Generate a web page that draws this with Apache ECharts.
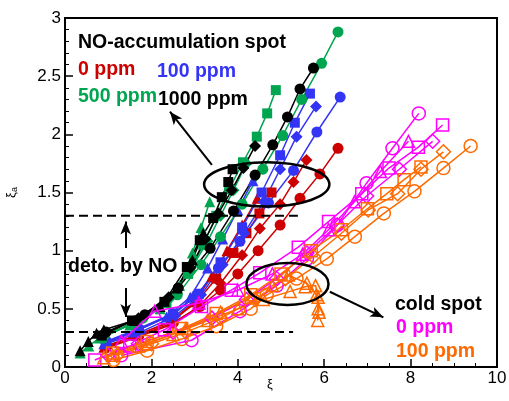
<!DOCTYPE html>
<html><head><meta charset="utf-8">
<script src="https://cdn.jsdelivr.net/npm/echarts@6/dist/echarts.min.js"></script>
<style>html,body{margin:0;padding:0;background:#fff}#c{width:509px;height:401px}</style>
</head><body><div id="c"></div>
<script>
// ---- data (x = ξ, y = ξa) ----
// NO-accumulation spot, filled markers
const black_circle  = [[0.95,0.30],[1.85,0.45],[2.62,0.68],[3.36,1.02],[3.90,1.34],[4.40,1.65],[4.81,1.91],[5.15,2.15],[5.44,2.39],[5.75,2.57]];
const black_square  = [[0.85,0.27],[1.55,0.40],[2.30,0.56],[2.82,0.86],[3.12,1.09],[3.43,1.28],[3.63,1.46],[3.78,1.59],[3.88,1.70]];
const black_diamond = [[0.90,0.28],[1.70,0.42],[2.40,0.60],[2.90,0.85],[3.25,1.10],[3.55,1.32],[3.86,1.52],[4.13,1.71],[4.40,1.90]];
const black_triangle= [[0.35,0.14],[0.54,0.22],[0.73,0.29],[0.90,0.32],[1.60,0.40],[2.20,0.52],[2.60,0.68],[2.95,0.92],[3.20,1.15]];
const green_circle  = [[0.90,0.27],[1.80,0.42],[2.60,0.62],[3.15,0.88],[3.60,1.12],[4.10,1.40],[4.58,1.70],[5.04,1.99],[5.48,2.30],[5.94,2.61],[6.32,2.88]];
const green_square  = [[0.85,0.25],[1.60,0.38],[2.35,0.55],[2.85,0.80],[3.20,1.05],[3.50,1.30],[3.80,1.53],[4.12,1.76],[4.44,1.98],[4.68,2.18],[4.88,2.38]];
const green_diamond = [[0.90,0.26],[1.70,0.40],[2.40,0.58],[2.90,0.83],[3.30,1.08],[3.60,1.30],[3.90,1.52],[4.20,1.75]];
const green_triangle= [[0.35,0.12],[0.55,0.18],[0.80,0.25],[1.50,0.36],[2.20,0.50],[2.65,0.70],[2.95,0.98],[3.15,1.20],[3.35,1.42]];
const blue_circle   = [[0.95,0.22],[1.70,0.33],[2.50,0.46],[3.05,0.62],[3.55,0.85],[4.05,1.08],[4.71,1.41],[5.29,1.69],[5.83,2.02],[6.37,2.32]];
const blue_square   = [[0.95,0.21],[1.70,0.32],[2.50,0.45],[3.10,0.63],[3.60,0.90],[4.10,1.20],[4.55,1.50],[4.98,1.82],[5.32,2.10],[5.67,2.35]];
const blue_diamond  = [[0.95,0.20],[1.75,0.30],[2.55,0.44],[3.15,0.62],[3.65,0.88],[4.15,1.15],[4.60,1.42],[4.98,1.70],[5.36,1.98],[5.81,2.24]];
const blue_triangle = [[0.90,0.20],[1.60,0.30],[2.35,0.43],[2.90,0.60],[3.30,0.85],[3.65,1.10],[4.00,1.35],[4.35,1.60]];
const red_circle    = [[0.95,0.17],[1.70,0.27],[2.50,0.38],[3.12,0.52],[3.60,0.66],[4.00,0.80],[4.47,1.00],[4.98,1.22],[5.44,1.45],[5.90,1.66],[6.32,1.88]];
const red_diamond   = [[0.95,0.16],[1.70,0.26],[2.50,0.37],[3.10,0.52],[3.60,0.72],[4.10,0.96],[4.51,1.19],[4.98,1.40],[5.29,1.59],[5.59,1.78]];
const red_square    = [[0.95,0.18],[1.70,0.28],[2.50,0.40],[3.05,0.56],[3.50,0.76],[3.90,0.98],[4.20,1.15],[4.50,1.32],[4.78,1.50]];
const red_triangle  = [[0.90,0.17],[1.65,0.27],[2.45,0.39],[3.00,0.56],[3.40,0.78],[3.75,1.00],[4.10,1.22],[4.45,1.45]];
// cold spot, hollow markers
const magenta_circle  = [[1.30,0.10],[2.93,0.23],[4.05,0.48],[4.90,0.70],[5.60,0.93],[6.30,1.22],[6.98,1.58],[7.58,1.88],[8.19,2.18]];
const magenta_square  = [[0.69,0.06],[1.50,0.18],[2.30,0.32],[3.16,0.52],[3.85,0.66],[4.51,0.81],[5.40,1.03],[6.10,1.25],[6.87,1.49],[7.50,1.71],[8.18,1.89],[8.74,2.08]];
const magenta_diamond = [[1.00,0.10],[1.70,0.20],[2.50,0.30],[3.40,0.42],[4.20,0.58],[4.90,0.76],[5.60,0.98],[6.30,1.22],[6.98,1.47],[7.74,1.70],[8.51,1.94]];
const magenta_triangle= [[1.30,0.22],[2.08,0.48],[3.10,0.55],[4.00,0.66],[4.80,0.80],[5.50,0.97],[6.10,1.18],[6.70,1.42],[7.30,1.68],[7.95,1.94]];
const orange_circle   = [[1.12,0.06],[1.90,0.14],[2.70,0.24],[3.50,0.35],[4.30,0.50],[4.67,0.62],[5.36,0.76],[6.06,0.93],[6.71,1.12],[7.38,1.32],[8.09,1.51],[8.76,1.71],[9.39,1.90]];
const orange_diamond  = [[1.20,0.10],[2.00,0.20],[2.80,0.30],[3.60,0.42],[4.40,0.58],[5.10,0.76],[5.75,0.95],[6.40,1.15],[7.02,1.35],[7.70,1.49],[8.24,1.70],[8.76,1.85]];
const orange_square   = [[1.10,0.12],[1.90,0.22],[2.70,0.33],[3.50,0.46],[4.30,0.62],[5.00,0.80],[5.70,1.00],[6.40,1.18],[7.00,1.36],[7.45,1.49],[7.85,1.61],[8.24,1.72]];
const orange_triangle1= [[0.90,0.08],[1.70,0.18],[2.50,0.28],[3.30,0.40],[4.00,0.50],[4.59,0.58],[5.21,0.65],[5.56,0.69],[5.80,0.70],[5.86,0.60],[5.86,0.50],[5.85,0.40]];
const orange_triangle2= [[1.10,0.10],[1.90,0.20],[2.80,0.33],[3.60,0.47],[4.30,0.60],[4.80,0.70],[5.17,0.79],[5.60,0.72],[5.82,0.62],[5.88,0.47]];
// annotations (data coordinates)
const dashHigh = [[0,1.3],[5.39,1.3]];
const dashLow  = [[0,0.3],[5.28,0.3]];
const arrows = [ [[3.40,1.737],[2.43,2.195]], [[6.13,0.647],[7.37,0.427]], [[1.405,1.023],[1.405,1.25]], [[1.405,0.679],[1.405,0.43]] ];
const ellipses = [ {c:[4.67,1.57], rx:1.45, ry:0.19}, {c:[5.15,0.714], rx:0.95, ry:0.18} ];
const xTickInterval = 2, yTickInterval = 0.5;

const C = {red:'#cc0000', blue:'#3434f5', green:'#00a550', black:'#000000', magenta:'#ff00ff', orange:'#ff6a00'};
const FONT = '"Liberation Sans", Arial, sans-serif';

function mk(data, color, symbol, size, hollow){
  return {
    type:'line', data, symbol, symbolSize:size, showSymbol:true, showAllSymbol:true,
    lineStyle:{color, width:1.5},
    itemStyle: hollow ? {color:'rgba(255,255,255,0)', borderColor:color, borderWidth:1.5}
                      : {color, borderColor:color, borderWidth:0},
    emphasis:{disabled:true}, silent:true, animation:false, z: hollow?3:2
  };
}

const series = [
  mk(red_circle, C.red,'circle',11), mk(red_diamond, C.red,'diamond',12), mk(red_square, C.red,'rect',10), mk(red_triangle, C.red,'triangle',11),
  mk(blue_circle, C.blue,'circle',11), mk(blue_diamond, C.blue,'diamond',12), mk(blue_square, C.blue,'rect',10), mk(blue_triangle, C.blue,'triangle',11),
  mk(green_circle, C.green,'circle',11), mk(green_diamond, C.green,'diamond',12), mk(green_square, C.green,'rect',10), mk(green_triangle, C.green,'triangle',11),
  mk(black_circle, C.black,'circle',11), mk(black_diamond, C.black,'diamond',12), mk(black_square, C.black,'rect',10), mk(black_triangle, C.black,'triangle',11),
  mk(magenta_circle, C.magenta,'circle',13,true), mk(magenta_square, C.magenta,'rect',12,true), mk(magenta_diamond, C.magenta,'diamond',14,true), mk(magenta_triangle, C.magenta,'triangle',12,true),
  mk(orange_circle, C.orange,'circle',13,true), mk(orange_square, C.orange,'rect',12,true), mk(orange_diamond, C.orange,'diamond',14,true), mk(orange_triangle1, C.orange,'triangle',12,true), mk(orange_triangle2, C.orange,'triangle',12,true),
  {type:'line', data:dashHigh, symbol:'none', lineStyle:{color:'#000', width:2, type:[9,5]}, silent:true, animation:false, z:4,
   markLine:{silent:true, animation:false, symbol:['none','arrow'], symbolSize:[8,13], label:{show:false},
     lineStyle:{color:'#000', width:2, type:'solid'}, emphasis:{disabled:true},
     data: arrows.map(a=>[{coord:a[0]},{coord:a[1]}])}},
  {type:'line', data:dashLow, symbol:'none', lineStyle:{color:'#000', width:2, type:[9,5]}, silent:true, animation:false, z:4}
];

const axisCommon = {
  axisLine:{show:true, onZero:false, lineStyle:{color:'#000', width:2}},
  axisTick:{show:true, inside:true, length:8, lineStyle:{color:'#000', width:1.5}},
  splitLine:{show:false}
};

const chart = echarts.init(document.getElementById('c'), null, {renderer:'canvas'});
chart.setOption({
  animation:false,
  grid:{left:65, top:18, right:12, bottom:34, containLabel:false, outerBoundsMode:'none',
        show:true, borderColor:'#000', borderWidth:2, backgroundColor:'transparent'},
  xAxis:Object.assign({type:'value', min:0, max:10, interval:xTickInterval,
    name:'ξ', nameLocation:'middle', nameGap:11, nameMoveOverlap:false,
    nameTextStyle:{fontSize:13, color:'#000', fontFamily:FONT, padding:[0,22,0,0]}},
    axisCommon, {minorTick:{show:true, splitNumber:4, length:4, lineStyle:{color:'#000', width:1}}, axisLabel:{color:'#000', fontSize:17, fontFamily:FONT, margin:3}}),
  yAxis:Object.assign({type:'value', min:0, max:3, interval:yTickInterval,
    name:'{a|ξ}{b|a}', nameLocation:'middle', nameGap:46, nameRotate:90, nameMoveOverlap:false,
    nameTextStyle:{color:'#000', fontFamily:FONT, rich:{a:{fontSize:13, fontFamily:FONT}, b:{fontSize:9, fontFamily:FONT, padding:[6,0,0,0]}}}},
    axisCommon, {minorTick:{show:true, splitNumber:5, length:4, lineStyle:{color:'#000', width:1}}, axisLabel:{color:'#000', fontSize:17, fontFamily:FONT, margin:4}}),
  series
});

function txt(text, x, y, fill){
  return {type:'text', silent:true, z:100, style:{text, x, y, fill, font:'bold 19.5px '+FONT, verticalAlign:'middle', textVerticalAlign:'middle'}};
}
const graphics = [
  txt('NO-accumulation spot', 78, 43, '#000'),
  txt('0 ppm', 78, 70, C.red),
  txt('100 ppm', 157, 72, C.blue),
  txt('500 ppm', 78, 97, C.green),
  txt('1000 ppm', 158, 100, '#000'),
  txt('deto. by NO', 68, 267, '#000'),
  txt('cold spot', 395, 305, '#000'),
  txt('0 ppm', 396, 328, C.magenta),
  txt('100 ppm', 396, 352, C.orange)
];
ellipses.forEach(e=>{
  const p = chart.convertToPixel({gridIndex:0}, e.c);
  const q = chart.convertToPixel({gridIndex:0}, [e.c[0]+e.rx, e.c[1]+e.ry]);
  graphics.push({type:'ellipse', silent:true, z:90, shape:{cx:p[0], cy:p[1], rx:Math.abs(q[0]-p[0]), ry:Math.abs(q[1]-p[1])},
    style:{fill:'none', stroke:'#000', lineWidth:2.5}});
});
chart.setOption({graphic:graphics});
</script></body></html>
